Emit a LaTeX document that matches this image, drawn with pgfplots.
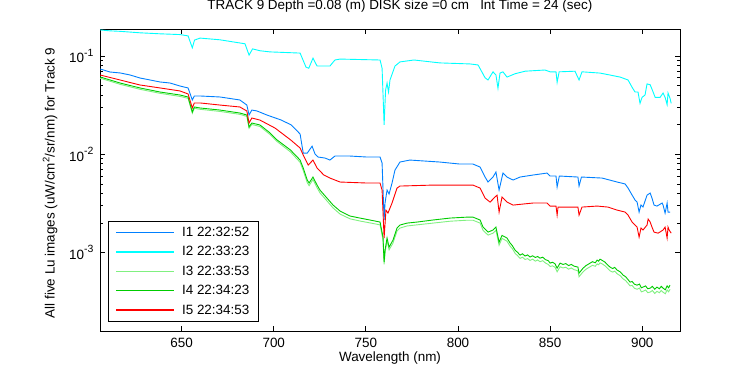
\documentclass[border=0pt]{standalone}
\usepackage{pgfplots}
\pgfplotsset{compat=1.18}
\usepackage{fontspec}
\setmainfont{Liberation Sans}
\definecolor{cI1}{RGB}{0,128,255}
\definecolor{cI2}{RGB}{0,255,255}
\definecolor{cI3}{RGB}{128,240,128}
\definecolor{cI4}{RGB}{0,204,0}
\definecolor{cI5}{RGB}{255,0,0}
\newcommand{\fnt}{\fontsize{13.5}{15}\selectfont}
\newcommand{\sups}[1]{\raisebox{0.5em}{\fontsize{10.5}{11}\selectfont #1}}
\begin{document}
\begin{tikzpicture}[x=1bp,y=1bp]
\useasboundingbox (0,0) rectangle (750,375);
\begin{axis}[
  at={(100bp,44bp)}, anchor=south west,
  scale only axis, width=580bp, height=302bp,
  xmin=605.7, xmax=920.5,
  ymode=log, ymin=1.6e-4, ymax=0.188,
  xtick={650,700,750,800,850,900},
  ytick={1e-3,1e-2,1e-1},
  yticklabels={10\sups{-3},10\sups{-2},10\sups{-1}},
  tick align=inside,
  major tick length=5bp, minor tick length=3bp,
  axis line style={line width=0.9bp},
  every tick/.style={black, line width=0.8bp},
  /pgf/number format/assume math mode=true,
  /pgf/number format/1000 sep={},
  tick label style={font=\fnt},
  xticklabel style={yshift=-4bp},
  yticklabel style={xshift=-3bp},
  title={TRACK 9 Depth =0.08 (m) DISK size =0 cm\ \ \ Int Time = 24 (sec)},
  title style={at={(axis description cs:0.517,1.056)}, anchor=center, font=\fnt},
  xlabel={Wavelength (nm)},
  xlabel style={at={(axis description cs:0.5,-0.088)}, anchor=center, font=\fnt},
  ylabel={All five Lu images (uW/cm\textsuperscript{2}/sr/nm) for Track 9},
  ylabel style={at={(axis description cs:-0.0862,0.49)}, anchor=center, font=\fnt},
  legend style={at={(axis description cs:0.014,0.03)}, anchor=south west, draw=black, line width=0.9bp, fill=white, font=\fnt, row sep=4.5bp, column sep=5bp, inner xsep=7bp, inner ysep=4bp},
  legend cell align=left,
  legend image code/.code={\draw[#1, line width=1.5bp] (0bp,0bp) -- (58bp,0bp);},
  every axis plot/.append style={line width=0.9bp},
]
% I1
\addplot[cI1] table {
605.7 0.0738
611.1 0.0687
616.6 0.0672
622.0 0.0641
627.4 0.0597
632.9 0.0570
638.3 0.0544
643.7 0.0531
649.1 0.0495
653.5 0.0473
655.8 0.0357
656.9 0.0392
660.0 0.0392
670.8 0.0383
681.6 0.0357
685.4 0.0317
686.6 0.0251
688.1 0.0282
690.9 0.0276
696.3 0.0251
704.1 0.0223
709.5 0.0199
714.3 0.0161
716.0 0.0103
718.2 0.0103
720.8 0.0121
722.4 0.0101
724.0 0.00939
727.8 0.00917
730.5 0.00875
733.2 0.00961
741.4 0.00961
750.6 0.00939
757.7 0.00939
758.8 0.00815
759.9 0.00215
760.4 0.00320
761.5 0.00433
762.6 0.00395
764.2 0.00511
765.8 0.00692
768.5 0.00835
773.9 0.00875
790.2 0.00835
801.0 0.00797
808.1 0.00797
812.0 0.00743
814.7 0.00588
816.3 0.00523
819.0 0.00588
820.6 0.00661
822.3 0.00433
824.4 0.00645
826.6 0.00588
829.9 0.00548
833.7 0.00588
840.7 0.00616
848.3 0.00645
850.0 0.00602
853.2 0.00602
853.8 0.00465
855.0 0.00602
865.1 0.00588
865.7 0.00476
867.0 0.00588
878.2 0.00574
886.4 0.00523
890.7 0.00500
892.3 0.00454
894.5 0.00385
896.1 0.00343
897.2 0.00327
898.3 0.00259
899.3 0.00305
900.4 0.00291
902.6 0.00385
904.3 0.00404
905.3 0.00359
906.4 0.00305
908.0 0.00298
910.8 0.00320
911.3 0.00305
912.4 0.00253
913.5 0.00320
914.0 0.00259
915.1 0.00259
};
\addlegendentry{I1 22:32:52}
% I2
\addplot[cI2] table {
605.7 0.184
611.1 0.180
616.6 0.178
627.4 0.172
638.3 0.168
649.1 0.165
653.5 0.160
655.8 0.121
657.0 0.145
660.0 0.152
670.8 0.146
684.4 0.133
686.6 0.102
688.5 0.118
692.5 0.113
698.0 0.110
714.3 0.107
717.5 0.077
719.0 0.075
721.3 0.095
723.5 0.079
730.5 0.079
733.2 0.091
736.0 0.093
757.7 0.091
758.8 0.075
759.9 0.0199
760.7 0.045
761.5 0.053
762.3 0.043
763.1 0.057
765.8 0.079
768.5 0.087
776.1 0.091
790.2 0.085
806.5 0.083
810.9 0.081
814.7 0.060
816.3 0.057
819.0 0.069
820.6 0.064
821.7 0.047
822.8 0.067
824.4 0.069
826.6 0.061
831.0 0.066
836.4 0.070
847.2 0.072
850.0 0.069
853.2 0.069
853.8 0.054
854.9 0.069
863.5 0.070
865.7 0.057
867.3 0.069
877.1 0.067
882.5 0.064
888.0 0.061
892.3 0.057
894.5 0.048
896.1 0.043
897.7 0.043
898.8 0.033
899.9 0.038
901.5 0.040
902.6 0.052
904.3 0.051
905.9 0.043
907.0 0.038
909.7 0.038
911.3 0.042
912.4 0.038
913.5 0.032
914.0 0.042
915.1 0.037
915.7 0.033
};
\addlegendentry{I2 22:33:23}
% I3
\addplot[cI3] table {
605.7 0.0595
616.6 0.0515
627.4 0.0458
638.3 0.0417
649.1 0.0388
653.5 0.0371
655.8 0.0262
656.9 0.0294
660.0 0.0287
670.8 0.0273
681.6 0.0255
685.4 0.0243
686.6 0.0184
688.1 0.0201
692.5 0.0192
698.0 0.0159
701.8 0.0135
709.0 0.0106
714.3 0.00830
716.0 0.00685
718.2 0.00515
719.2 0.00480
721.3 0.00555
723.5 0.00458
725.1 0.00405
728.9 0.00336
732.2 0.00285
736.0 0.00247
741.4 0.00221
746.8 0.00210
752.2 0.00201
757.7 0.00192
759.3 0.00135
759.9 0.000760
760.4 0.00100
761.5 0.00132
762.6 0.00107
764.7 0.00125
766.9 0.00166
768.5 0.00178
772.3 0.00187
777.8 0.00192
786.4 0.00200
795.7 0.00209
804.9 0.00214
808.1 0.00214
812.0 0.00200
813.6 0.00169
816.3 0.00151
819.0 0.00158
820.6 0.00169
822.3 0.00119
823.9 0.00140
826.6 0.00131
828.2 0.00117
829.5 0.00110
831.0 0.000985
832.3 0.000935
833.7 0.000875
835.0 0.000900
836.4 0.000855
837.8 0.000870
839.1 0.000835
840.5 0.000860
842.0 0.000820
843.2 0.000845
844.5 0.000810
846.0 0.000830
847.5 0.000785
849.0 0.000760
850.0 0.000725
851.3 0.000735
852.7 0.000710
853.8 0.000640
855.4 0.000720
857.0 0.000700
858.5 0.000712
860.0 0.000680
861.5 0.000700
863.0 0.000672
865.1 0.000655
865.7 0.000570
867.9 0.000640
869.5 0.000680
871.7 0.000720
873.0 0.000745
874.5 0.000728
875.5 0.000770
876.3 0.000755
877.1 0.000790
878.5 0.000765
879.8 0.000735
881.0 0.000700
882.5 0.000655
884.0 0.000635
885.0 0.000650
886.4 0.000610
888.0 0.000585
889.7 0.000540
891.0 0.000520
892.2 0.000490
893.4 0.000460
894.5 0.000465
895.8 0.000435
897.2 0.000425
898.5 0.000437
899.5 0.000400
900.4 0.000405
901.8 0.000418
903.0 0.000392
904.3 0.000398
905.5 0.000413
906.8 0.000385
908.0 0.000405
909.3 0.000392
910.3 0.000413
911.3 0.000397
912.5 0.000383
913.5 0.000418
914.3 0.000400
915.1 0.000425
};
\addlegendentry{I3 22:33:53}
% I4
\addplot[cI4] table {
605.7 0.0612
616.6 0.0531
627.4 0.0473
638.3 0.0430
649.1 0.0401
653.5 0.0383
655.8 0.0269
656.9 0.0303
660.0 0.0296
670.8 0.0282
681.6 0.0263
685.4 0.0251
686.6 0.0190
688.1 0.0208
692.5 0.0199
698.0 0.0165
701.8 0.0140
709.0 0.0111
714.3 0.00875
716.0 0.00726
718.2 0.00548
719.2 0.00511
721.3 0.00588
723.5 0.00487
725.1 0.00433
728.9 0.00359
732.2 0.00305
736.0 0.00265
741.4 0.00236
746.8 0.00225
752.2 0.00215
757.7 0.00205
759.3 0.00144
759.9 0.000802
760.4 0.00106
761.5 0.00141
762.6 0.00114
764.7 0.00134
766.9 0.00178
768.5 0.00191
772.3 0.00200
777.8 0.00205
786.4 0.00215
795.7 0.00225
804.9 0.00230
808.1 0.00230
812.0 0.00215
813.6 0.00182
816.3 0.00162
819.0 0.00170
820.6 0.00182
822.3 0.00128
823.9 0.00150
826.6 0.00141
828.2 0.00126
829.5 0.00118
831.0 0.00106
832.3 0.00101
833.7 0.000945
835.0 0.000975
836.4 0.000925
837.8 0.000950
839.1 0.000904
840.5 0.000930
842.0 0.000895
843.2 0.000915
844.5 0.000881
846.0 0.000900
847.5 0.000850
849.0 0.000830
850.0 0.000784
851.3 0.000800
852.7 0.000770
853.8 0.000697
855.4 0.000784
857.0 0.000760
858.5 0.000775
860.0 0.000740
861.5 0.000760
863.0 0.000730
865.1 0.000714
865.7 0.000620
867.9 0.000697
869.5 0.000740
871.7 0.000784
873.0 0.000810
874.5 0.000790
875.5 0.000841
876.3 0.000820
877.1 0.000860
878.5 0.000830
879.8 0.000802
881.0 0.000760
882.5 0.000714
884.0 0.000690
885.0 0.000710
886.4 0.000665
888.0 0.000640
889.7 0.000590
891.0 0.000570
892.2 0.000535
893.4 0.000502
894.5 0.000510
895.8 0.000478
897.2 0.000468
898.5 0.000480
899.5 0.000440
900.4 0.000447
901.8 0.000460
903.0 0.000430
904.3 0.000436
905.5 0.000455
906.8 0.000425
908.0 0.000447
909.3 0.000430
910.3 0.000455
911.3 0.000436
912.5 0.000420
913.5 0.000460
914.3 0.000440
915.1 0.000468
};
\addlegendentry{I4 22:34:23}
% I5
\addplot[cI5] table {
605.7 0.0641
616.6 0.0570
627.4 0.0507
638.3 0.0473
649.1 0.0441
653.5 0.0411
655.8 0.0296
656.9 0.0333
660.0 0.0333
670.8 0.0317
681.6 0.0303
685.4 0.0276
686.6 0.0208
688.1 0.0234
692.5 0.0223
700.7 0.0185
709.2 0.0140
714.3 0.0116
716.0 0.00984
718.7 0.00778
721.3 0.00875
723.5 0.00726
727.2 0.00616
730.5 0.00574
736.0 0.00523
750.6 0.00511
757.7 0.00511
758.8 0.00433
759.9 0.00141
760.9 0.00271
762.0 0.00253
764.2 0.00320
766.9 0.00454
768.5 0.00476
786.4 0.00487
808.1 0.00487
812.0 0.00454
814.7 0.00359
817.4 0.00327
820.1 0.00368
821.2 0.00385
822.3 0.00259
823.9 0.00368
826.6 0.00327
829.9 0.00305
840.7 0.00320
848.3 0.00320
850.0 0.00298
853.2 0.00298
853.8 0.00241
854.3 0.00291
865.1 0.00291
865.7 0.00241
867.3 0.00291
875.5 0.00298
881.4 0.00291
886.4 0.00271
890.7 0.00259
892.3 0.00241
894.5 0.00205
896.1 0.00191
897.2 0.00182
898.3 0.00144
899.3 0.00178
900.4 0.00170
902.6 0.00191
903.2 0.00220
904.3 0.00205
905.3 0.00182
906.4 0.00162
908.6 0.00158
911.3 0.00170
912.4 0.00182
913.5 0.00141
914.0 0.00182
914.6 0.00170
915.7 0.00158
};
\addlegendentry{I5 22:34:53}
\end{axis}
\end{tikzpicture}
\end{document}
